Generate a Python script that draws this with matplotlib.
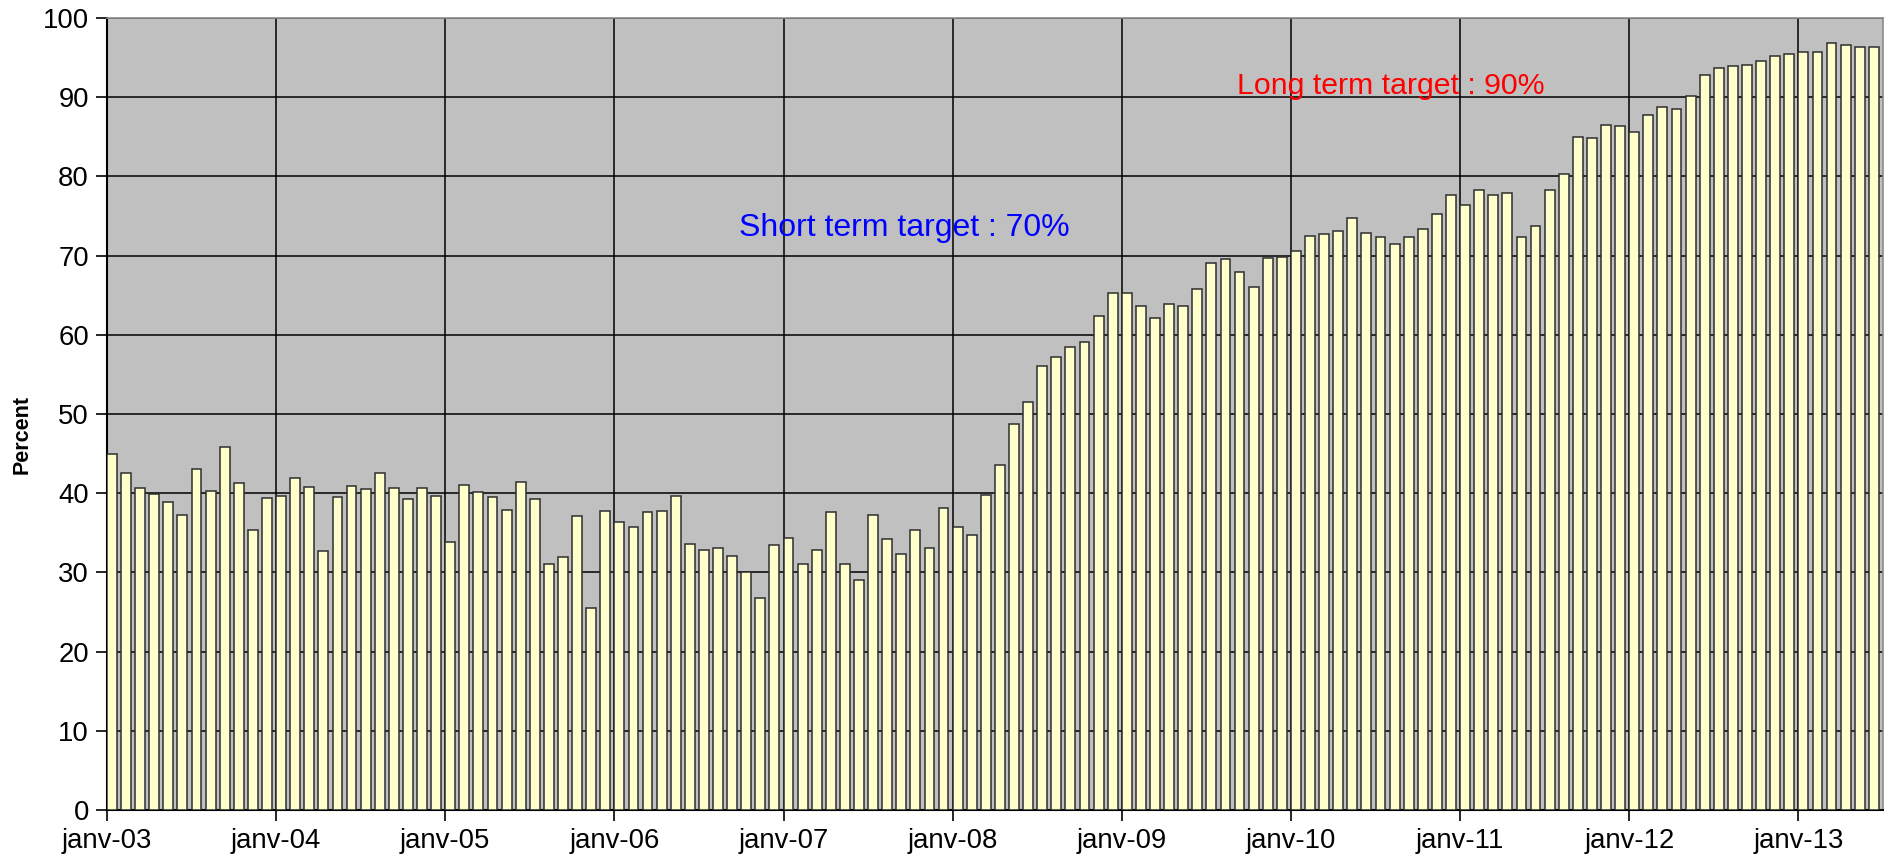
import matplotlib
matplotlib.use("Agg")
import matplotlib.pyplot as plt
import numpy as np

# Monthly values (percent), Jan 2003 .. Jun 2013
v2003 = [44.9, 42.5, 40.7, 39.9, 38.9, 37.2, 43.0, 40.3, 45.8, 41.3, 35.4, 39.4]
v2004 = [39.7, 41.9, 40.8, 32.7, 39.5, 40.9, 40.5, 42.5, 40.6, 39.3, 40.6, 39.7]
v2005 = [33.9, 41.0, 40.1, 39.5, 37.9, 41.4, 39.3, 31.1, 31.9, 37.1, 25.5, 37.8]
v2006 = [36.4, 35.7, 37.6, 37.8, 39.7, 33.6, 32.8, 33.1, 32.1, 30.1, 26.8, 33.4]
v2007 = [34.3, 31.1, 32.8, 37.6, 31.1, 29.0, 37.2, 34.2, 32.3, 35.4, 33.1, 38.1]
v2008 = [35.7, 34.7, 39.8, 43.6, 48.8, 51.5, 56.1, 57.2, 58.4, 59.1, 62.4, 65.3]
v2009 = [65.3, 63.6, 62.1, 63.9, 63.6, 65.8, 69.1, 69.6, 67.9, 66.0, 69.7, 69.8]
v2010 = [70.6, 72.5, 72.7, 73.1, 74.8, 72.9, 72.4, 71.5, 72.4, 73.3, 75.3, 77.7]
v2011 = [76.4, 78.3, 77.6, 77.9, 72.3, 73.7, 78.3, 80.3, 85.0, 84.9, 86.5, 86.4]
v2012 = [85.6, 87.8, 88.8, 88.5, 90.1, 92.8, 93.7, 93.9, 94.1, 94.6, 95.2, 95.5]
v2013 = [95.7, 95.7, 96.8, 96.6, 96.3, 96.3]

year_labels = ["janv-03", "janv-04", "janv-05", "janv-06", "janv-07", "janv-08",
               "janv-09", "janv-10", "janv-11", "janv-12", "janv-13"]
y_ticks = [0, 10, 20, 30, 40, 50, 60, 70, 80, 90, 100]
short_label = "Short term target : 70%"
long_label = "Long term target : 90%"

values = v2003 + v2004 + v2005 + v2006 + v2007 + v2008 + v2009 + v2010 + v2011 + v2012 + v2013
months = np.arange(len(values))

FONT = "Liberation Sans"
plt.rcParams["font.family"] = [FONT, "DejaVu Sans"]

fig = plt.figure(figsize=(18.84, 8.63), dpi=100)
fig.patch.set_facecolor("white")
ax = fig.add_axes([107 / 1884, 1 - 810 / 863, (1883 - 107) / 1884, (810 - 18) / 863])
ax.set_facecolor("#C0C0C0")

ax.bar(months, values, width=0.7, align="edge", color="#FFFFCC",
       edgecolor="#2E2E2E", linewidth=1.1, zorder=3)

ax.set_xlim(0, len(values))
ax.set_ylim(0, 100)
ax.set_yticks(y_ticks)
ax.set_yticklabels([str(t) for t in y_ticks])
ax.set_xticks(np.arange(len(year_labels)) * 12)
ax.set_xticklabels(year_labels)

ax.set_axisbelow(True)
ax.grid(True, axis="both", color="black", linewidth=1.1, zorder=1)

ax.tick_params(axis="both", direction="out", length=8, width=1.2, colors="black",
               labelsize=19.8, pad=5)
for side in ("left", "bottom"):
    ax.spines[side].set_color("black")
    ax.spines[side].set_linewidth(1.5)
for side in ("top", "right"):
    ax.spines[side].set_color("#8C8C8C")
    ax.spines[side].set_linewidth(1.2)

ax.text(44.85, 73.5, short_label, color="#0000FF", fontsize=23,
        ha="left", va="center", zorder=5)
ax.text(80.2, 91.4, long_label, color="#FF0000", fontsize=21.8,
        ha="left", va="center", zorder=5)

fig.text(22 / 1884, 1 - 434 / 863, "Percent", rotation=90, ha="center", va="center",
         fontsize=15.5, fontweight="bold", family=[FONT, "DejaVu Sans"])

fig.savefig("out.png", dpi=100, facecolor="white")
